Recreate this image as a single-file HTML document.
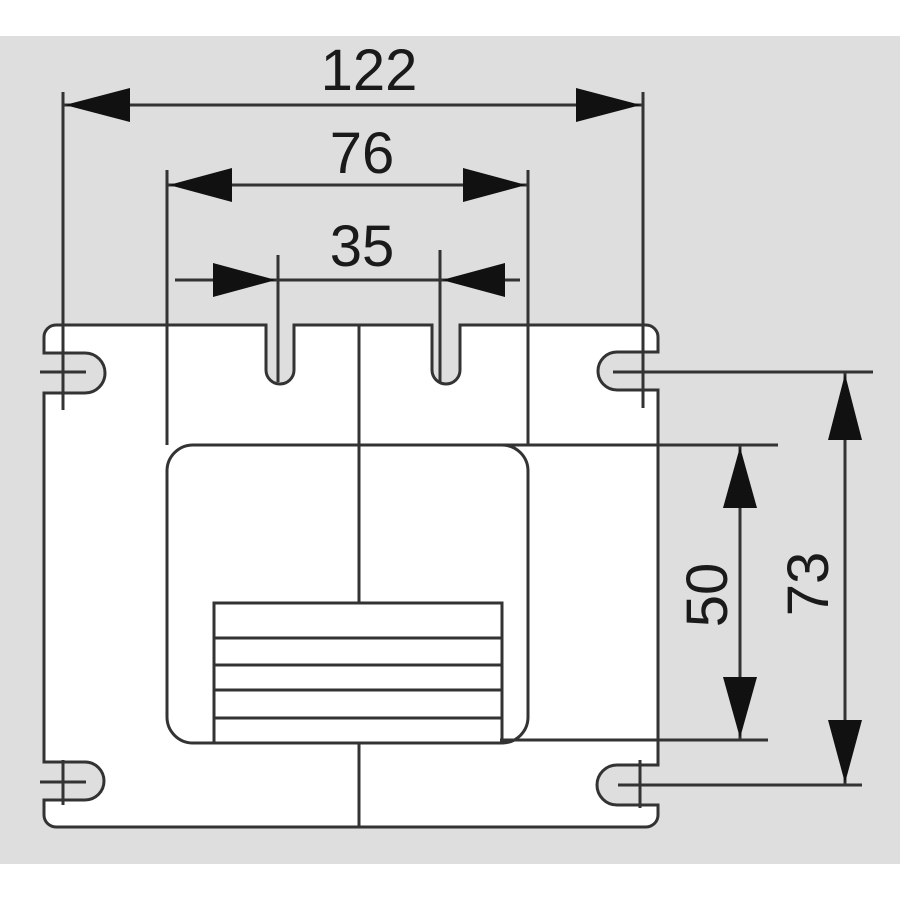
<!DOCTYPE html>
<html><head><meta charset="utf-8"><style>
html,body{margin:0;padding:0;background:#fff;}
svg{display:block}
text{font-family:"Liberation Sans",Arial,sans-serif;font-size:58px;fill:#1a1a1a}
</style></head><body>
<svg width="900" height="900" viewBox="0 0 900 900">
<rect x="0" y="36" width="900" height="828" fill="#dedede"/>
<!-- body outline -->
<path d="M56,325 H266 V370 A14,14 0 0 0 294,370 V325 H432 V370 A14,14 0 0 0 460,370 V325 H646 A12,12 0 0 1 658,337 V352 H617 A19,19 0 0 0 617,390 H658 V765 H617 A20,20 0 0 0 617,805 H658 V815 A12,12 0 0 1 646,827 H56 A12,12 0 0 1 44,815 V800 H85 A19,19 0 0 0 85,762 H44 V393 H85 A20,20 0 0 0 85,353 H44 V337 A12,12 0 0 1 56,325 Z" fill="#fff" stroke="#333" stroke-width="3"/>
<g stroke="#333" stroke-width="3" fill="none">
<!-- inner window -->
<rect x="167" y="445" width="361" height="298" rx="26" fill="#fff"/>
<rect x="214" y="603" width="288" height="140" fill="#fff"/>
<line x1="214" y1="638" x2="502" y2="638"/>
<line x1="214" y1="665" x2="502" y2="665"/>
<line x1="214" y1="690" x2="502" y2="690"/>
<line x1="214" y1="718" x2="502" y2="718"/>
<!-- center line -->
<line x1="359" y1="325" x2="359" y2="603"/>
<line x1="359" y1="743" x2="359" y2="827"/>
<!-- extension lines -->
<line x1="63" y1="92" x2="63" y2="410"/>
<line x1="643" y1="92" x2="643" y2="408"/>
<line x1="167" y1="170" x2="167" y2="445"/>
<line x1="528" y1="170" x2="528" y2="445"/>
<line x1="278" y1="255" x2="278" y2="382"/>
<line x1="440" y1="250" x2="440" y2="382"/>
<line x1="63" y1="760" x2="63" y2="805"/>
<line x1="640" y1="760" x2="640" y2="808"/>
<line x1="40" y1="372" x2="86" y2="372"/>
<line x1="40" y1="782" x2="86" y2="782"/>
<line x1="613" y1="372" x2="873" y2="372"/>
<line x1="618" y1="785" x2="862" y2="785"/>
<line x1="455" y1="445" x2="778" y2="445"/>
<line x1="500" y1="740" x2="768" y2="740"/>
<!-- dim lines -->
<line x1="63" y1="105" x2="643" y2="105"/>
<line x1="167" y1="185" x2="528" y2="185"/>
<line x1="175" y1="280" x2="520" y2="280"/>
<line x1="740" y1="445" x2="740" y2="740"/>
<line x1="845" y1="372" x2="845" y2="785"/>
</g>
<g fill="#111">
<polygon points="65,105 130,88 130,122"/>
<polygon points="641,105 576,88 576,122"/>
<polygon points="169,185 232,168 232,202"/>
<polygon points="526,185 463,168 463,202"/>
<polygon points="276,280 213,263 213,297"/>
<polygon points="442,280 505,263 505,297"/>
<polygon points="740,447 723,508 757,508"/>
<polygon points="740,738 723,677 757,677"/>
<polygon points="845,374 828,440 862,440"/>
<polygon points="845,783 828,720 862,720"/>
</g>
<text x="369" y="90" text-anchor="middle">122</text>
<text x="362" y="173" text-anchor="middle">76</text>
<text x="362" y="266" text-anchor="middle">35</text>
<text transform="translate(727,595) rotate(-90)" text-anchor="middle">50</text>
<text transform="translate(828,584) rotate(-90)" text-anchor="middle">73</text>
</svg>
</body></html>
